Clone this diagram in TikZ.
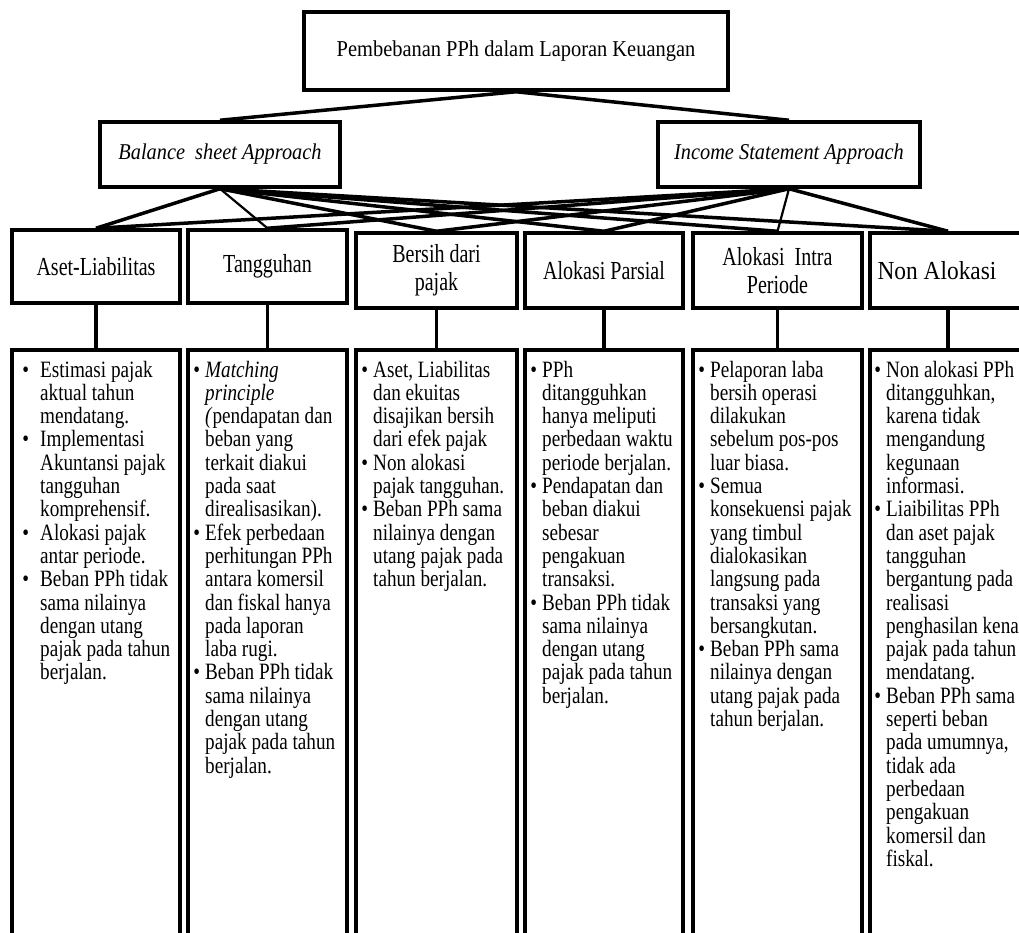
\documentclass[tikz,border=0pt]{standalone}
\usepackage{fontspec}
\setmainfont{Liberation Serif}
% narrowed faces for the tall, condensed lettering
\newfontfamily\titlefont[FakeStretch=0.9]{Liberation Serif}
\newfontfamily\headfont[FakeStretch=0.77]{Liberation Serif}
\newfontfamily\bodyfont[FakeStretch=0.82]{Liberation Serif}
\newlength\bulgap
\setlength\bulgap{5pt}
\newcommand\bul{\leavevmode\llap{\textbullet\hspace{\bulgap}}}
\newcommand\bulletlist[2]{\parbox[t]{#1}{\raggedright\bodyfont\fontsize{23.4}{23.3}\selectfont #2}}
\begin{document}
\begin{tikzpicture}[x=1pt,y=-1pt,
  box/.style={draw, line width=3.5pt, inner sep=0pt, align=center},
  head/.style={box, font=\headfont\fontsize{26}{28}\selectfont},
  detail/.style={draw, line width=3.5pt, inner sep=0pt, minimum height=600pt},
  items/.style={anchor=base west, inner sep=0pt, align=left},
  link/.style={line width=3.5pt},
  thinlink/.style={line width=2.2pt}]
\useasboundingbox (0,0) rectangle (1019,932);
\clip (0,0) rectangle (1019,932);

% top level
\node[box, minimum width=424pt, minimum height=78pt,
      font=\titlefont\fontsize{22.7}{26}\selectfont] (top) at (516,51)
  {Pembebanan PPh dalam Laporan Keuangan};

% approaches
\node[box, minimum width=240pt, minimum height=65pt,
      font=\titlefont\fontsize{22.6}{26}\selectfont\itshape] (bal) at (220,154.5)
  {Balance\ \ sheet Approach};
\node[box, minimum width=262pt, minimum height=65pt,
      font=\titlefont\fontsize{22.6}{26}\selectfont\itshape] (inc) at (789,154.5)
  {Income Statement Approach};

% methods
\node[head, minimum width=168pt, minimum height=73pt] (m1) at (96,266.5) {Aset-Liabilitas};
\node[head, minimum width=159pt, minimum height=73pt] (m2) at (267.5,266.5) {Tangguhan};
\node[head, minimum width=161pt, minimum height=75pt] (m3) at (436.5,270.5) {Bersih dari\\pajak};
\node[head, minimum width=158pt, minimum height=75pt] (m4) at (604,270.5) {Alokasi Parsial};
\node[head, minimum width=169pt, minimum height=75pt] (m5) at (777.5,270.5) {Alokasi\ \ Intra\\Periode};
\node[head, minimum width=156pt, minimum height=75pt,
      font=\titlefont\fontsize{26}{28}\selectfont] (m6) at (948,270.5) {\hspace*{-22pt}Non Alokasi};

% detail frames
\node[detail, minimum width=168pt] (d1) at (96,650) {};
\node[detail, minimum width=159pt] (d2) at (267.5,650) {};
\node[detail, minimum width=161pt] (d3) at (436.5,650) {};
\node[detail, minimum width=158pt] (d4) at (604,650) {};
\node[detail, minimum width=169pt] (d5) at (777.5,650) {};
\node[detail, minimum width=156pt] (d6) at (948,650) {};

% connectors
\draw[link] (top.south) -- (bal.north);
\draw[link] (top.south) -- (inc.north);
\foreach \m in {m1,m3,m4,m5,m6} \draw[link] (bal.south) -- (\m.north);
\draw[thinlink] (bal.south) -- (m2.north);
\foreach \m in {m1,m2,m3,m4,m6} \draw[link] (inc.south) -- (\m.north);
\draw[thinlink] (inc.south) -- (m5.north);
\foreach \i in {1,...,6} \draw[link] (m\i.south) -- (d\i.north);

% item texts
\node[items] (t1) at (40,377) {\setlength\bulgap{11pt}\bulletlist{140pt}{%
\bul Estimasi pajak\\aktual tahun\\mendatang.\\
\bul Implementasi\\Akuntansi pajak\\tangguhan\\komprehensif.\\
\bul Alokasi pajak\\antar periode.\\
\bul Beban PPh tidak\\sama nilainya\\dengan utang\\pajak pada tahun\\berjalan.}};

\node[items] (t2) at (205,377) {\bulletlist{140pt}{%
\bul \textit{Matching}\\\textit{principle}\\\textit{(}pendapatan dan\\beban yang\\terkait diakui\\pada saat\\direalisasikan).\\
\bul Efek perbedaan\\perhitungan PPh\\antara komersil\\dan fiskal hanya\\pada laporan\\laba rugi.\\
\bul Beban PPh tidak\\sama nilainya\\dengan utang\\pajak pada tahun\\berjalan.}};

\node[items] (t3) at (373,377) {\bulletlist{140pt}{%
\bul Aset, Liabilitas\\dan ekuitas\\disajikan bersih\\dari efek pajak\\
\bul Non alokasi\\pajak tangguhan.\\
\bul Beban PPh sama\\nilainya dengan\\utang pajak pada\\tahun berjalan.}};

\node[items] (t4) at (542,377) {\bulletlist{140pt}{%
\bul PPh\\ditangguhkan\\hanya meliputi\\perbedaan waktu\\periode berjalan.\\
\bul Pendapatan dan\\beban diakui\\sebesar\\pengakuan\\transaksi.\\
\bul Beban PPh tidak\\sama nilainya\\dengan utang\\pajak pada tahun\\berjalan.}};

\node[items] (t5) at (710,377) {\bulletlist{150pt}{%
\bul Pelaporan laba\\bersih operasi\\dilakukan\\sebelum pos-pos\\luar biasa.\\
\bul Semua\\konsekuensi pajak\\yang timbul\\dialokasikan\\langsung pada\\transaksi yang\\bersangkutan.\\
\bul Beban PPh sama\\nilainya dengan\\utang pajak pada\\tahun berjalan.}};

\node[items] (t6) at (886,377) {\bulletlist{150pt}{%
\bul Non alokasi PPh\\ditangguhkan,\\karena tidak\\mengandung\\kegunaan\\informasi.\\
\bul Liaibilitas PPh\\dan aset pajak\\tangguhan\\bergantung pada\\realisasi\\penghasilan kena\\pajak pada tahun\\mendatang.\\
\bul Beban PPh sama\\seperti beban\\pada umumnya,\\tidak ada\\perbedaan\\pengakuan\\komersil dan\\fiskal.}};
\end{tikzpicture}
\end{document}
